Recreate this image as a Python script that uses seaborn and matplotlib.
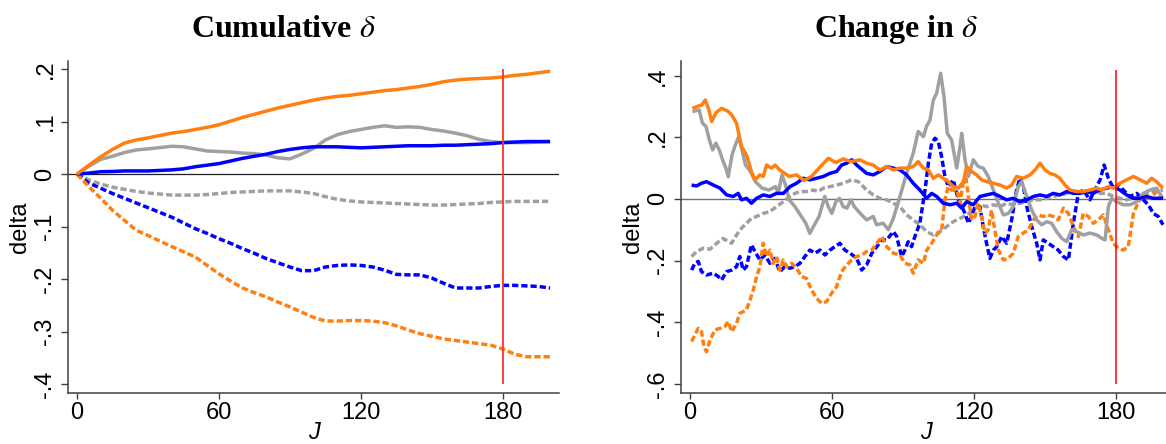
import numpy as np
import pandas as pd
import matplotlib
matplotlib.use("Agg")
import matplotlib.pyplot as plt
import seaborn as sns

# ---------------- data: left panel (Cumulative delta) ----------------
J_cum = [0, 5, 10, 15, 20, 25, 30, 40, 45, 50, 55, 60, 65, 70, 75, 80, 85, 90, 95,
         100, 105, 110, 115, 120, 125, 130, 135, 140, 145, 150, 155, 160, 165, 170,
         175, 180, 185, 190, 195, 200]
cum_orange_solid = [0, .017, .033, .047, .059, .065, .069, .078, .081, .085, .089, .094,
                    .101, .108, .114, .120, .126, .131, .136, .141, .145, .148, .150,
                    .153, .156, .159, .161, .164, .167, .171, .176, .179, .181, .182,
                    .183, .185, .188, .190, .193, .196]
cum_gray_solid = [0, .015, .028, .034, .041, .046, .048, .053, .052, .048, .044, .043,
                  .042, .040, .039, .036, .031, .029, .038, .049, .065, .075, .081,
                  .085, .089, .092, .089, .090, .089, .085, .082, .078, .073, .066,
                  .062, .060, .060, .060, .061, .062]
cum_blue_solid = [0, .002, .0045, .005, .006, .006, .006, .008, .010, .014, .017, .020,
                  .025, .030, .034, .038, .043, .047, .050, .052, .052, .052, .051,
                  .050, .051, .052, .053, .054, .054, .054, .055, .055, .056, .057,
                  .058, .060, .061, .062, .062, .062]
cum_gray_dash = [0, -.011, -.019, -.025, -.029, -.033, -.036, -.040, -.040, -.040,
                 -.039, -.037, -.035, -.034, -.033, -.032, -.032, -.032, -.034, -.037,
                 -.043, -.048, -.051, -.053, -.054, -.055, -.056, -.057, -.058, -.059,
                 -.059, -.058, -.057, -.056, -.054, -.053, -.052, -.052, -.052, -.052]
cum_blue_dash = [0, -.017, -.027, -.037, -.046, -.055, -.064, -.082, -.093, -.104,
                 -.113, -.123, -.132, -.142, -.151, -.161, -.169, -.177, -.184, -.184,
                 -.177, -.174, -.173, -.174, -.177, -.183, -.191, -.192, -.192, -.198,
                 -.208, -.217, -.217, -.217, -.214, -.212, -.212, -.213, -.214, -.217]
cum_orange_dash = [0, -.024, -.046, -.069, -.088, -.107, -.117, -.138, -.148, -.158,
                   -.174, -.190, -.204, -.217, -.226, -.234, -.244, -.253, -.263, -.273,
                   -.280, -.280, -.279, -.279, -.280, -.283, -.289, -.297, -.304, -.309,
                   -.314, -.317, -.320, -.323, -.326, -.333, -.343, -.348, -.348, -.348]

# ---------------- data: right panel (Change in delta) ----------------
J_os = [1, 3, 5, 6.5, 8, 9.2, 11, 13.4, 16, 17.6, 19.7, 21.8, 23.9, 26, 27.5, 29.6,
        31, 32.4, 34.5, 36, 38, 42, 45, 48.3, 51.4, 54.6, 58.5, 61.7, 64.8, 68,
        71.9, 74.7, 77.5, 80.3, 83.2, 86, 88.8, 91.6, 94.4, 96.5, 98.7, 100.8, 102.9,
        105, 107.1, 109.2, 111.3, 113.5, 115.6, 117, 119.1, 121.2, 123.3, 125.4,
        128.3, 131.1, 133.9, 136, 138.1, 140.9, 143.8, 145.9, 148, 150.1, 152.2,
        154.3, 156.4, 158.6, 160.7, 163.5, 166.3, 169.1, 172, 174.1, 176.9, 179,
        181.8, 184.6, 187.5, 190.3, 193.1, 195.2, 197.3, 199.9]
chg_orange_solid = [.294, .300, .305, .321, .290, .251, .280, .294, .285, .273, .246,
                    .170, .143, .089, .062, .078, .073, .110, .100, .110, .094, .073,
                    .078, .060, .073, .100, .132, .118, .130, .121,
                    .127, .116, .110, .094, .105, .094, .100, .100, .105, .121, .100,
                    .094, .067, .078, .067, .056, .040, .035, .056, .105, .089, .078,
                    .062, .056, .051, .045, .035, .045, .073, .067, .078, .094, .116,
                    .094, .083, .078, .067, .045, .029, .024, .024, .029, .035, .029,
                    .040, .035, .051, .062, .073, .062, .051, .067, .056, .035]

J_gs = [1.1, 3.9, 5.3, 6.8, 8.2, 9.6, 11, 12.4, 13.8, 15.2, 16.2, 17.8, 19.2, 20.6,
        22, 23.5, 25.6, 27.7, 30.5, 33.4, 36.2, 37.3, 38.9, 40.4, 42, 44.4, 46.7, 49,
        50.7, 52.2, 54.6, 57, 58.5, 60, 61.7, 63.2, 64.8, 66.4, 68, 69.5,
        72, 74.7, 77.5, 78.9, 81.7, 83.9, 86, 88.8, 91.6, 94.4, 96.5, 98.7, 100,
        101.5, 102.9, 104.3, 106, 107.4, 108.8, 110.6, 112.8, 114.2, 114.9, 116.3,
        117.7, 119.8, 121.9, 124, 126.1, 128.3, 130.4, 132.5, 134.6, 136.7, 138.8,
        140.2, 142.4, 144.5, 146.6, 148.7, 150.8, 152.9, 155, 157.2, 159.3, 161.4,
        163.5, 166.3, 169.1, 172, 174.1, 175.5, 176.9, 178.3, 180.4, 183.2, 186,
        188.9, 191.7, 194.5, 197.3, 199.4]
chg_gray_solid = [.283, .289, .246, .235, .192, .159, .181, .159, .127, .100, .072,
                  .143, .175, .202, .159, .110, .089, .056, .035, .029, .040, .018,
                  .078, .046, -.003, -.025, -.052, -.079, -.112, -.090, -.057, .008,
                  -.025, -.047, -.009, .002, -.025, -.030, -.003, -.025,
                  -.047, -.068, -.057, -.084, -.079, -.100, -.063, .008, .083, .148,
                  .219, .202, .235, .256, .321, .343, .408, .332, .213, .192, .100,
                  .170, .213, .127, .073, .127, .105, .100, .073, .029, -.014, -.052,
                  -.047, -.025, .040, .056, .008, -.036, -.068, -.084, -.074, -.079,
                  -.106, -.128, -.139, -.100, -.106, -.117, -.111, -.117, -.128,
                  -.133, -.025, .002, -.009, -.019, -.019, -.009, .018, .029, .035,
                  .008]

J_bs = [0.7, 2.8, 4.9, 7, 9.9, 12.7, 15.5, 18.3, 20.4, 21.8, 23.9, 26, 28.2, 31, 33.8,
        36.6, 39.5, 42.3, 45.1, 47.9, 50.7, 53.5, 56.4, 59.2, 62, 64.1, 66.3, 68.4,
        70.5, 74.7, 77.5, 80.3, 83.2, 86, 88.8, 91.6, 94.4, 97.2, 100.1, 102.2,
        104.3, 107.1, 110, 112.8, 114.9, 117, 119.8, 122.6, 125.4, 128.3, 131.1,
        133.9, 136.7, 139.5, 142.4, 145.2, 148, 150.8, 153.6, 156.4, 159.3, 162.1,
        164.9, 167.7, 170.5, 173.4, 176.2, 179, 181.8, 184.6, 187.5, 190.3, 193.1,
        195.9, 200]
chg_blue_solid = [.045, .042, .051, .056, .045, .035, .013, .008, .018, -.003, .002,
                  -.014, .002, .013, .008, .018, .018, .040, .051, .067, .062, .067,
                  .073, .083, .089, .110, .116, .127, .110, .083, .078, .089, .105,
                  .100, .094, .078, .051, .029, .002, .018, .008, -.014, -.019, -.014,
                  -.030, -.009, -.019, .008, .013, .018, .008, -.003, .002, -.009,
                  -.003, .008, .013, .008, .018, .013, .024, .018, .018, .024, .018,
                  .029, .035, .040, .029, .013, .002, .002, .008, .002, .002]

J_bd = [0.7, 2.1, 3.5, 4.9, 7, 9.9, 12, 13.4, 15.5, 17.6, 19.7, 21.1, 22.5, 23.9, 26,
        27.5, 29.6, 31.7, 33.8, 35.9, 38, 40.1, 42.3, 44.4, 46.5, 48.6, 50.7, 52.9,
        55, 57.1, 59.2, 61.3, 63.4, 65.5, 67.7, 70.5, 72.6, 74.7, 76.9, 79, 81.1,
        83.2, 86, 87.4, 89.5, 90.9, 92.3, 93.7, 95.1, 97.2, 99.4, 100.8, 102.2,
        103.6, 105, 106.4, 107.8, 109.2, 111.3, 113.5, 114.9, 116.3, 117.7, 119.1,
        120.5, 122.6, 124, 125.4, 126.8, 128.3, 129.7, 131.8, 133.9, 136, 138.1,
        139.5, 141, 142.4, 144.5, 146.6, 148, 149.4, 151.5, 153.6, 155.7, 157.9, 160,
        162.1, 164.2, 166.3, 169.1, 171.2, 173.4, 175.1, 176.9, 179, 181.1, 183.2,
        186, 188.9, 191.7, 193.8, 195.9, 198, 200]
chg_blue_dash = [-.231, -.209, -.203, -.236, -.247, -.241, -.252, -.263, -.236, -.231,
                 -.220, -.187, -.231, -.220, -.149, -.171, -.198, -.182, -.209, -.193,
                 -.236, -.220, -.225, -.220, -.209, -.187, -.166, -.176, -.166, -.182,
                 -.166, -.155, -.144, -.166, -.176, -.193, -.231, -.214, -.176, -.155,
                 -.133, -.133, -.106, -.122, -.187, -.166, -.139, -.155, -.122, -.079,
                 .029, .116, .181, .197, .186, .137, .073, .040, .062, -.003, -.025,
                 -.047, -.079, -.057, -.025, -.025, -.090, -.144, -.193, -.166, -.155,
                 -.122, -.144, -.068, .029, .067, .040, -.025, -.090, -.144, -.198,
                 -.133, -.144, -.155, -.166, -.187, -.198, -.079, .018, .029, -.003,
                 .029, .062, .110, .067, .035, .045, .029, .008, .018, -.003, -.019,
                 -.047, -.057, -.084]

J_gd = [0.7, 2.8, 5.6, 8.5, 11.3, 14.1, 16.2, 17.6, 19.7, 21.8, 23.9, 26, 28.2, 31,
        33.8, 36.6, 39.5, 42.3, 44.4, 46.5, 49.3, 52.2, 54.3, 56.4, 59.2, 62, 64.8,
        68.4, 71.2, 74.7, 77.5, 80.3, 83.2, 86, 88.8, 91.6, 94.4, 97.2, 100.1, 102.9,
        105.7, 108.5, 111.3, 114.2, 117, 119.8, 122.6, 125.4, 128.3, 131.1, 133.9,
        136.7, 139.5, 142.4, 145.2, 148, 150.8, 153.6, 156.4, 159.3, 162.1, 164.9,
        167.7, 170.5, 173.4, 176.2, 179, 181.8, 184.6, 187.5, 190.3, 193.1, 195.9,
        200]
chg_gray_dash = [-.187, -.171, -.160, -.163, -.144, -.128, -.139, -.144, -.117, -.095,
                 -.079, -.063, -.057, -.047, -.041, -.025, -.009, .008, .018, .024,
                 .024, .029, .024, .035, .040, .045, .051, .062, .056, .029, .013, .002,
                 -.003, -.014, -.025, -.052, -.068, -.084, -.106, -.117, -.106, -.090,
                 -.074, -.063, -.052, -.036, -.019, -.025, -.019, -.025, -.014, -.019,
                 -.014, -.009, -.003, -.003, .002, .008, .013, .018, .024, .024, .024,
                 .024, .018, .018, .008, .002, -.003, .002, .008, .018, .024, .029]

J_od = [0.7, 2.1, 3.5, 4.9, 5.9, 7, 8.5, 10.6, 12.7, 14.8, 16.2, 17.6, 19.7, 21.1,
        22.5, 23.9, 25.4, 26.8, 28.2, 29.6, 31, 32.4, 33.8, 35.2, 36.6, 38, 39.5,
        40.9, 43, 45.1, 47.2, 49.3, 51.4, 53.5, 55.7, 57.8, 59.9, 62, 64.1, 66.3,
        68.4, 70.5, 72.6, 74.7, 76.9, 79, 81.1, 83.2, 86, 88.8, 90.9, 93, 94.4, 96.5,
        98.7, 100.1, 102.2, 104.3, 106.4, 107.8, 109.2, 110.6, 112.8, 114.2, 115.5,
        116.7, 117.7, 119.1, 120.5, 121.9, 123.3, 124.7, 126.1, 127.5, 129, 130.4,
        132.5, 134.6, 136.7, 138.8, 140.9, 143.1, 145.2, 147.3, 149.4, 151.5, 153.6,
        155.7, 157.9, 160, 162.1, 164.2, 166.3, 168.4, 170.5, 172.6, 174.8, 176.9,
        179, 181.1, 183.2, 185.3, 187.5, 189.6, 191.7, 194.5, 197.3, 200]
chg_orange_dash = [-.463, -.442, -.420, -.431, -.479, -.496, -.458, -.425, -.420,
                   -.414, -.398, -.431, -.404, -.371, -.366, -.360, -.328, -.295,
                   -.252, -.220, -.144, -.187, -.166, -.209, -.187, -.231, -.198,
                   -.220, -.209, -.225, -.252, -.258, -.295, -.322, -.339, -.333,
                   -.306, -.285, -.236, -.214, -.198, -.187, -.182, -.171, -.166,
                   -.144, -.122, -.155, -.176, -.182, -.209, -.214, -.241, -.198,
                   -.209, -.166, -.144, -.117, -.101, -.003, .040, .029, .029, -.014,
                   .051, .067, .008, -.068, -.057, -.014, -.057, -.111, -.101, -.036,
                   -.106, -.166, -.198, -.193, -.176, -.122, -.111, -.101, -.068,
                   -.052, -.057, -.052, -.057, -.068, -.030, -.047, -.090, -.122,
                   -.047, -.057, -.079, -.068, -.052, -.101, -.144, -.160, -.166,
                   -.155, -.047, -.009, .008, .002, .024, .002]

x_ticks = [0, 60, 120, 180]
x_ticklabels = ["0", "60", "120", "180"]
left_yticks = [0.2, 0.1, 0.0, -0.1, -0.2, -0.3, -0.4]
left_yticklabels = [".2", ".1", "0", "-.1", "-.2", "-.3", "-.4"]
right_yticks = [0.4, 0.2, 0.0, -0.2, -0.4, -0.6]
right_yticklabels = [".4", ".2", "0", "-.2", "-.4", "-.6"]
titles = ["Cumulative $\\delta$", "Change in $\\delta$"]

# ---------------- style ----------------
sns.set_theme(style="white")
plt.rcParams["font.family"] = ["Liberation Sans", "DejaVu Sans"]
plt.rcParams["mathtext.fontset"] = "stix"
for k in ["text.color", "axes.labelcolor", "xtick.color", "ytick.color"]:
    plt.rcParams[k] = "black"

ORANGE = "#ff8010"
BLUE = "#0000ff"
GRAY = "#a0a0a0"
LW = 2.5
DASH = (1.8, 0.85)

fig = plt.figure(figsize=(11.66, 4.44), dpi=100)
fig.patch.set_facecolor("white")
axL = fig.add_axes([68.3 / 1166, 51 / 444, 491 / 1166, 332.3 / 444])
axR = fig.add_axes([680.7 / 1166, 51 / 444, 491.3 / 1166, 332.3 / 444])


def draw(ax, series):
    for x, y, color, dashed in series:
        df = pd.DataFrame({"J": x, "delta": y})
        sns.lineplot(data=df, x="J", y="delta", ax=ax, color=color, linewidth=LW,
                     estimator=None, sort=False, zorder=3)
        ln = ax.lines[-1]
        ln.set_solid_capstyle("butt")
        ln.set_solid_joinstyle("round")
        if dashed:
            ln.set_dashes(DASH)
            ln.set_dash_capstyle("butt")


draw(axL, [
    (J_cum, cum_gray_dash, GRAY, True),
    (J_cum, cum_blue_dash, BLUE, True),
    (J_cum, cum_orange_dash, ORANGE, True),
    (J_cum, cum_gray_solid, GRAY, False),
    (J_cum, cum_blue_solid, BLUE, False),
    (J_cum, cum_orange_solid, ORANGE, False),
])
draw(axR, [
    (J_gd, chg_gray_dash, GRAY, True),
    (J_bd, chg_blue_dash, BLUE, True),
    (J_od, chg_orange_dash, ORANGE, True),
    (J_gs, chg_gray_solid, GRAY, False),
    (J_bs, chg_blue_solid, BLUE, False),
    (J_os, chg_orange_solid, ORANGE, False),
])

axL.axhline(0, color="#202020", lw=0.9, zorder=2)
axR.axhline(0, color="#707070", lw=1.0, zorder=2)
axL.vlines(180, -0.4, 0.2, color="#ff3030", lw=1.3, zorder=4)
axR.vlines(180, -0.6, 0.42, color="red", lw=1.1, zorder=4)

axL.set_xlim(-3.7, 203.9)
axL.set_ylim(-0.417, 0.216)
axR.set_xlim(-3.9, 203.8)
axR.set_ylim(-0.630, 0.4487)

for ax, yt, ytl, title in [(axL, left_yticks, left_yticklabels, titles[0]),
                           (axR, right_yticks, right_yticklabels, titles[1])]:
    ax.set_facecolor("white")
    for s in ["top", "right"]:
        ax.spines[s].set_visible(False)
    for s in ["left", "bottom"]:
        ax.spines[s].set_color("#404040")
        ax.spines[s].set_linewidth(1.1)
    ax.set_xticks(x_ticks)
    ax.set_xticklabels(x_ticklabels, fontsize=17)
    ax.set_yticks(yt)
    ax.set_yticklabels(ytl, fontsize=17, rotation=90, va="center", ha="right")
    ax.tick_params(axis="y", which="major", left=True, length=5, width=1.0,
                   color="#404040", pad=3.5)
    ax.tick_params(axis="x", which="major", bottom=True, length=4.3, width=1.0,
                   color="#404040", pad=2)
    ax.set_xlabel("J", fontsize=17, fontstyle="italic")
    ax.set_ylabel("delta", fontsize=17)
    ax.yaxis.set_label_coords(-0.098, 0.5)
    ax.yaxis.label.set_va("center")
    ax.xaxis.set_label_coords(0.5, -0.084)
    ax.grid(False)

fig.text(283 / 1166, 1 - 37 / 444, titles[0], ha="center", va="baseline",
         fontsize=23, fontweight="bold", family="Liberation Serif", color="black")
fig.text(896 / 1166, 1 - 37 / 444, titles[1], ha="center", va="baseline",
         fontsize=23, fontweight="bold", family="Liberation Serif", color="black")

fig.savefig("out.png", dpi=100, facecolor="white")
